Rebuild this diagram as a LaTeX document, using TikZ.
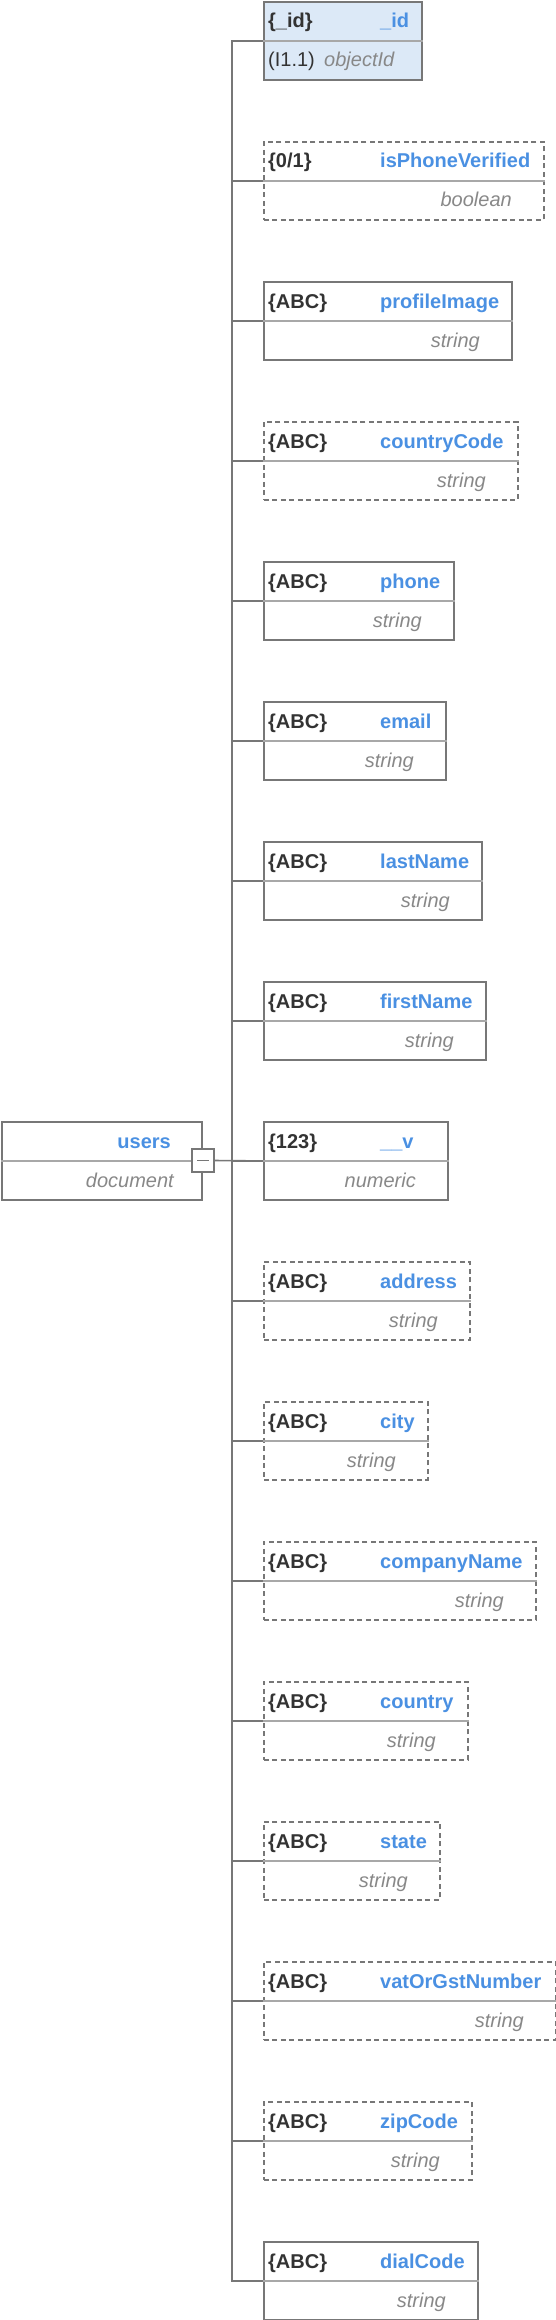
\documentclass[tikz,border=0pt]{standalone}
\usepackage{fontspec}
\setmainfont{Liberation Sans}
\definecolor{edge}{HTML}{777777}
\definecolor{sepcol}{HTML}{A8A8A8}
\definecolor{fname}{HTML}{4A90E2}
\definecolor{ftype}{HTML}{333333}
\definecolor{fsub}{HTML}{888888}
\definecolor{idfill}{HTML}{DCE9F7}
\newcommand\fsz{\fontsize{20}{24}\selectfont}
\tikzset{
  fieldbox/.style={draw=edge, line width=1.9pt, rectangle, inner sep=0pt, anchor=north west, minimum height=78pt},
  optional/.style={dash pattern=on 5pt off 3.5pt},
  plainbox/.style={},
  typelbl/.style={anchor=base west, inner sep=0pt, text=ftype, font=\fsz\bfseries},
  namelbl/.style={anchor=base west, inner sep=0pt, text=fname, font=\fsz\bfseries},
  sublbl/.style={anchor=base east, inner sep=0pt, text=fsub, font=\fsz\itshape},
  divider/.style={draw=sepcol, line width=1.6pt},
  link/.style={draw=edge, line width=1.6pt},
}
% #1 id, #2 top, #3 right, #4 type, #5 name, #6 subtype, #7 style
\newcommand\fieldrow[7]{%
  \node[fieldbox,#7,minimum width={#3pt-263pt}] (f#1) at (263,#2) {};
  \draw[divider] (f#1.west) -- (f#1.east);
  \node[typelbl] (f#1t) at (268,#2+27) {#4};
  \node[namelbl] (f#1n) at (380,#2+27) {#5};
  \node[sublbl] (f#1s) at (#3-31,#2+66) {#6};
}
\begin{document}
\begin{tikzpicture}[x=1pt,y=-1pt]
\useasboundingbox (0,0) rectangle (556,2320);
% _id box
\node[fieldbox,fill=idfill,minimum width=158pt] (f0) at (263,1) {};
\draw[divider] (f0.west) -- (f0.east);
\node[typelbl] (f0t) at (268,28) {\{\_id\}};
\node[namelbl] (f0n) at (380,28) {\_id};
\node[anchor=base west, inner sep=0pt, text=ftype, font=\fsz] (f0a) at (268,67) {(I1.1)};
\node[anchor=base west, inner sep=0pt, text=fsub, font=\fsz\itshape] (f0s) at (324,67) {objectId};
\fieldrow{1}{141}{543}{\{0/1\}}{isPhoneVerified}{boolean}{optional}
\fieldrow{2}{281}{511}{\{ABC\}}{profileImage}{string}{plainbox}
\fieldrow{3}{421}{517}{\{ABC\}}{countryCode}{string}{optional}
\fieldrow{4}{561}{453}{\{ABC\}}{phone}{string}{plainbox}
\fieldrow{5}{701}{445}{\{ABC\}}{email}{string}{plainbox}
\fieldrow{6}{841}{481}{\{ABC\}}{lastName}{string}{plainbox}
\fieldrow{7}{981}{485}{\{ABC\}}{firstName}{string}{plainbox}
\fieldrow{8}{1121}{447}{\{123\}}{\_\_v}{numeric}{plainbox}
\fieldrow{9}{1261}{469}{\{ABC\}}{address}{string}{optional}
\fieldrow{10}{1401}{427}{\{ABC\}}{city}{string}{optional}
\fieldrow{11}{1541}{535}{\{ABC\}}{companyName}{string}{optional}
\fieldrow{12}{1681}{467}{\{ABC\}}{country}{string}{optional}
\fieldrow{13}{1821}{439}{\{ABC\}}{state}{string}{optional}
\fieldrow{14}{1961}{555}{\{ABC\}}{vatOrGstNumber}{string}{optional}
\fieldrow{15}{2101}{471}{\{ABC\}}{zipCode}{string}{optional}
\fieldrow{16}{2241}{477}{\{ABC\}}{dialCode}{string}{plainbox}
% connectors
\draw[link] (f0.west) -- ++(-31,0) |- (f16.west);
\foreach \k in {1,...,15} { \draw[link] (f\k.west) -- ++(-31,0); }
% users box
\node[fieldbox,minimum width=200pt] (users) at (1,1121) {};
\draw[divider] (users.west) -- (users.east);
\node[anchor=base east, inner sep=0pt, text=fname, font=\fsz\bfseries] (usersn) at (171,1148) {users};
\node[anchor=base east, inner sep=0pt, text=fsub, font=\fsz\itshape] (userss) at (174,1187) {document};
\node[draw=edge, line width=1.6pt, fill=white, inner sep=0pt, minimum width=22pt, minimum height=23pt] (btn) at (203,1160.5) {};
\draw[link] ([xshift=-6pt]btn.center) -- ([xshift=6pt]btn.center);
\draw[link] (btn.east) -- (f8.west);
\end{tikzpicture}
\end{document}
